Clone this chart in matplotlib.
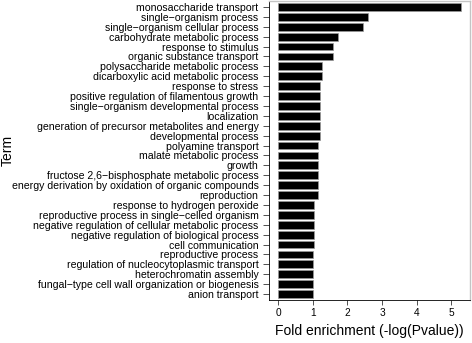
import matplotlib.pyplot as plt
import numpy as np

plt.rcParams['font.family'] = ['Liberation Sans', 'DejaVu Sans']

# GO terms, top to bottom as shown
terms = [
    'monosaccharide transport',
    'single\u2212organism process',
    'single\u2212organism cellular process',
    'carbohydrate metabolic process',
    'response to stimulus',
    'organic substance transport',
    'polysaccharide metabolic process',
    'dicarboxylic acid metabolic process',
    'response to stress',
    'positive regulation of filamentous growth',
    'single\u2212organism developmental process',
    'localization',
    'generation of precursor metabolites and energy',
    'developmental process',
    'polyamine transport',
    'malate metabolic process',
    'growth',
    'fructose 2,6\u2212bisphosphate metabolic process',
    'energy derivation by oxidation of organic compounds',
    'reproduction',
    'response to hydrogen peroxide',
    'reproductive process in single\u2212celled organism',
    'negative regulation of cellular metabolic process',
    'negative regulation of biological process',
    'cell communication',
    'reproductive process',
    'regulation of nucleocytoplasmic transport',
    'heterochromatin assembly',
    'fungal\u2212type cell wall organization or biogenesis',
    'anion transport',
]
enrichment = [5.28, 2.59, 2.46, 1.73, 1.59, 1.59, 1.26, 1.26, 1.22, 1.22,
              1.22, 1.22, 1.22, 1.20, 1.14, 1.14, 1.14, 1.14, 1.14, 1.14,
              1.04, 1.04, 1.04, 1.04, 1.04, 1.02, 1.02, 1.02, 1.02, 1.02]
xticks = [0, 1, 2, 3, 4, 5]

fig = plt.figure(figsize=(4.72, 3.43), dpi=100)
ax = fig.add_axes([269 / 472, 1 - 300 / 343, (470 - 269) / 472, 299 / 343])

ypos = np.arange(len(terms))[::-1] + 1
ax.barh(ypos, enrichment, height=0.78, color='black',
        edgecolor='#9a9a9a', linewidth=0.5)

xmax = max(enrichment)
ax.set_xlim(-0.05 * xmax, xmax * 1.05)
ax.set_ylim(0.4, len(terms) + 0.6)
ax.set_yticks(ypos)
ax.set_yticklabels(terms, fontsize=7.6)
ax.set_xticks(xticks)
ax.set_xticklabels([str(t) for t in xticks], fontsize=7.3)
ax.tick_params(axis='y', length=4, width=0.6, color='#333333', pad=3.6)
ax.tick_params(axis='x', length=3.6, width=0.6, color='#333333', pad=2.2)

for s in ['top', 'right']:
    ax.spines[s].set_color('#c4c4c4')
    ax.spines[s].set_linewidth(1.0)
for s in ['left', 'bottom']:
    ax.spines[s].set_color('black')
    ax.spines[s].set_linewidth(0.6)

ax.set_xlabel('Fold enrichment (-log(Pvalue))', fontsize=10, labelpad=4)
fig.text(8 / 472, 1 - 150 / 343, 'Term', rotation=90, fontsize=10,
         ha='center', va='center')

fig.savefig('out.png', dpi=100)
